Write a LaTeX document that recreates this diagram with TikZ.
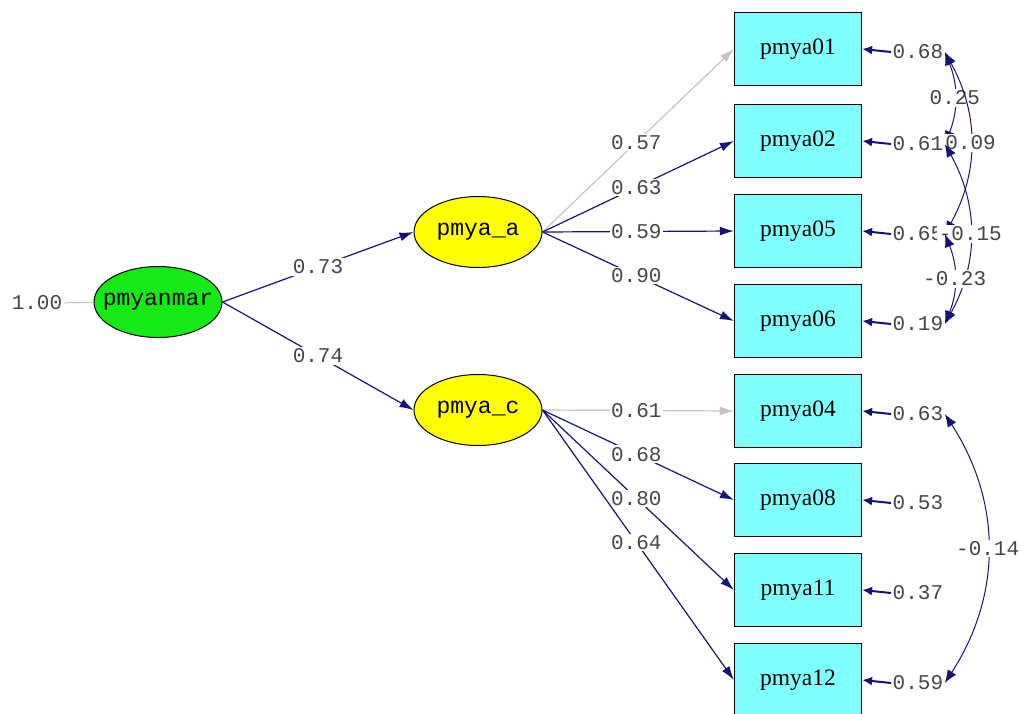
\documentclass[tikz,border=0pt]{standalone}
\usepackage{fontspec}
\setmainfont{Liberation Serif}
\setmonofont{Liberation Mono}
\usetikzlibrary{shapes.geometric,arrows.meta}
\definecolor{pathblue}{RGB}{20,20,120}
\definecolor{fixgray}{RGB}{195,195,195}
\definecolor{labgray}{RGB}{70,70,70}
\definecolor{boxcyan}{RGB}{128,255,255}
\definecolor{latyellow}{RGB}{255,255,0}
\definecolor{latgreen}{RGB}{20,235,20}
\tikzset{
  obs/.style={rectangle, draw=black, line width=1.2pt, fill=boxcyan, minimum width=127pt, minimum height=73pt, inner sep=0pt, font=\fontsize{23.5}{25}\selectfont},
  lat/.style={ellipse, draw=black, line width=1pt, minimum width=128pt, minimum height=71pt, inner sep=0pt, font=\ttfamily\fontsize{23}{25}\selectfont},
  coef/.style={fill=white, inner sep=1.5pt, text=labgray, font=\ttfamily\fontsize{21}{23}\selectfont},
  errlab/.style={coef, anchor=west},
  load/.style={draw=pathblue, line width=1.2pt, -{Latex[length=14pt,width=9pt]}},
  fixload/.style={load, draw=fixgray},
  errarr/.style={draw=pathblue, line width=2pt, -{Latex[length=10pt,width=9pt]}},
  covar/.style={draw=pathblue, line width=1pt, {Latex[length=13pt,width=10pt]}-{Latex[length=13pt,width=10pt]}}
}

\begin{document}
\begin{tikzpicture}[x=1pt,y=-1pt]
			\useasboundingbox (0,0) rectangle (1023,713);
			% latent variables
			\node (pm)[lat, fill=latgreen, inner xsep=-10pt] at (158,302) {pmyanmar};
			\node (pa)[lat, fill=latyellow] at (478,232) {pmya\_a};
			\node (pc)[lat, fill=latyellow] at (478,410) {pmya\_c};
			\node (one)[coef] at (37,303) {1.00};

			% observed variables
			\node (b01)[obs] at (798,49) {pmya01};
			\node (b02)[obs] at (798,141) {pmya02};
			\node (b05)[obs] at (798,231) {pmya05};
			\node (b06)[obs] at (798,321) {pmya06};
			\node (b04)[obs] at (798,411) {pmya04};
			\node (b08)[obs] at (798,500) {pmya08};
			\node (b11)[obs] at (798,590) {pmya11};
			\node (b12)[obs] at (798,680) {pmya12};

			% error variances
			\node (e01)[errlab] at (891,52) {0.68};
			\node (e02)[errlab] at (891,144) {0.61};
			\node (e05)[errlab] at (891,234) {0.65};
			\node (e06)[errlab] at (891,324) {0.19};
			\node (e04)[errlab] at (891,414) {0.63};
			\node (e08)[errlab] at (891,503) {0.53};
			\node (e11)[errlab] at (891,593) {0.37};
			\node (e12)[errlab] at (891,683) {0.59};

			\draw [draw=fixgray, line width=1pt](one) -- (pm);
			\draw [load](pm.east) -- node[coef, pos=0.5] {0.73} (pa.west);
			\draw [load](pm.east) -- node[coef, pos=0.5] {0.74} (pc.west);

			\draw [fixload](pa.east) -- node[coef, pos=0.49] {0.57} (b01.west);
			\draw [load](pa.east) -- node[coef, pos=0.49] {0.63} (b02.west);
			\draw [load](pa.east) -- node[coef, pos=0.49] {0.59} (b05.west);
			\draw [load](pa.east) -- node[coef, pos=0.49] {0.90} (b06.west);

			\draw [fixload](pc.east) -- node[coef, pos=0.49] {0.61} (b04.west);
			\draw [load](pc.east) -- node[coef, pos=0.49] {0.68} (b08.west);
			\draw [load](pc.east) -- node[coef, pos=0.49] {0.80} (b11.west);
			\draw [load](pc.east) -- node[coef, pos=0.49] {0.64} (b12.west);

			\draw [errarr](e01.west) -- (b01.east);
			\draw [errarr](e02.west) -- (b02.east);
			\draw [errarr](e05.west) -- (b05.east);
			\draw [errarr](e06.west) -- (b06.east);
			\draw [errarr](e04.west) -- (b04.east);
			\draw [errarr](e08.west) -- (b08.east);
			\draw [errarr](e11.west) -- (b11.east);
			\draw [errarr](e12.west) -- (b12.east);

			% error covariances
			\draw [covar](e01.east) to[bend left=22] node[coef] {0.25} (e02.east);
			\draw [covar](e01.east) to[bend left=29] node[coef] {0.09} (e05.east);
			\draw [covar](e02.east) to[bend left=29] node[coef] {-0.15} (e06.east);
			\draw [covar](e05.east) to[bend left=22] node[coef] {-0.23} (e06.east);
			\draw [covar](e04.east) to[bend left=33] node[coef] {-0.14} (e12.east);
		\end{tikzpicture}
\end{document}
